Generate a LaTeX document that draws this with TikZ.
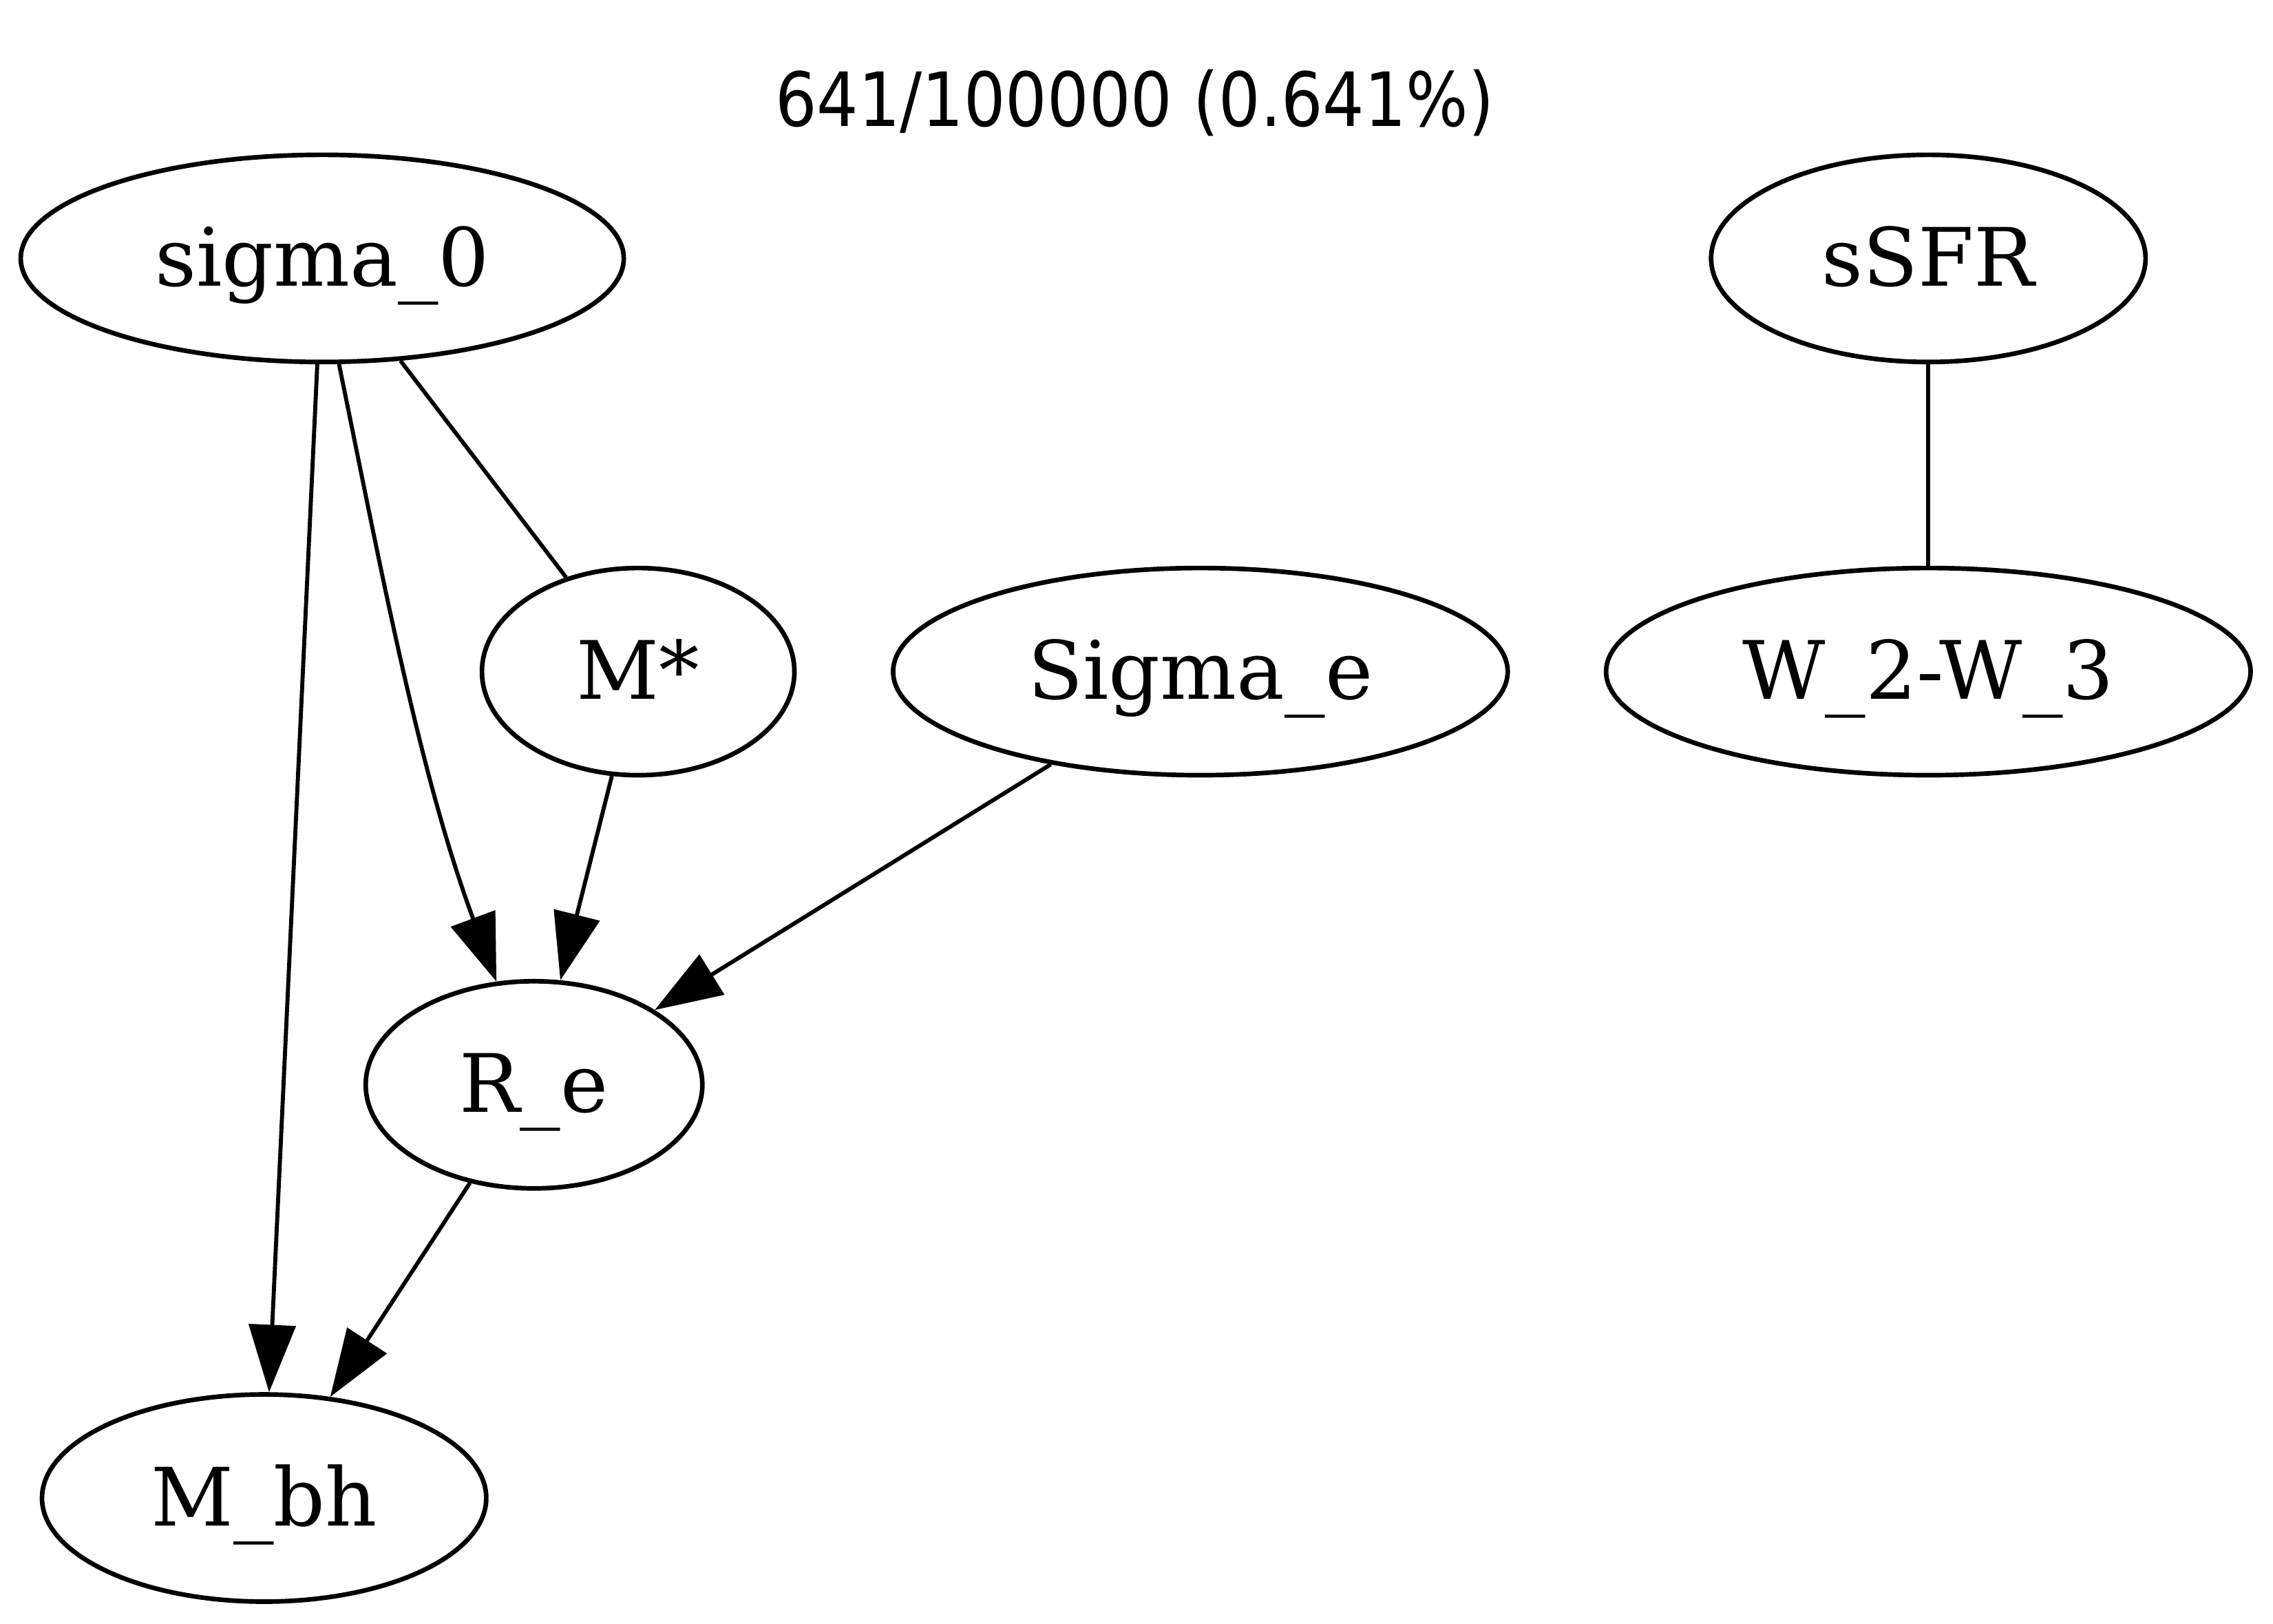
\documentclass[tikz,border=0pt]{standalone}
\usepackage{graphicx}
\usepackage{fontspec}
\setmainfont{DejaVu Serif}
\newfontfamily\titlefont{DejaVu Sans}
\usetikzlibrary{shapes.geometric,arrows.meta}
\begin{document}
\begin{tikzpicture}[x=1pt,y=1pt,
  gnode/.style={draw, ellipse, line width=0.8pt, inner sep=0pt, minimum height=36pt,
    text height=11.3pt, text depth=1.7pt, font=\fontsize{14}{16}\selectfont},
  edge/.style={line width=0.7pt},
  arr/.style={edge, -{Triangle[length=11.7pt,width=8.1pt]}}]
\useasboundingbox (0,0) rectangle (395,282.1);
\node[anchor=base, font=\titlefont\fontsize{13}{15}\selectfont] (title) at (197.2,260.1) {\scalebox{0.876}[1]{641/100000 (0.641\%)}};
\node[gnode, minimum width=104.8pt] (sigma0) at (56.0,237.2) {sigma\_0};
\node[gnode, minimum width=75.5pt] (ssfr) at (335.1,237.2) {sSFR};
\node[gnode, minimum width=54.3pt] (mstar) at (110.9,165.4) {M*};
\node[gnode, minimum width=106.8pt] (sigmae) at (208.6,165.4) {Sigma\_e};
\node[gnode, minimum width=112.0pt] (w23) at (335.1,165.4) {W\_2-W\_3};
\node[gnode, minimum width=58.5pt] (re) at (92.8,93.6) {R\_e};
\node[gnode, minimum width=77.2pt] (mbh) at (45.9,21.8) {M\_bh};
\draw[arr] (sigma0) -- (mbh);
\draw[arr] (sigma0.-81) .. controls (66.1,183.8) and (72.8,147.8) .. (re.110);
\draw[edge] (sigma0) -- (mstar);
\draw[arr] (mstar) -- (re);
\draw[arr] (sigmae) -- (re);
\draw[arr] (re) -- (mbh);
\draw[edge] (ssfr) -- (w23);
\end{tikzpicture}
\end{document}
